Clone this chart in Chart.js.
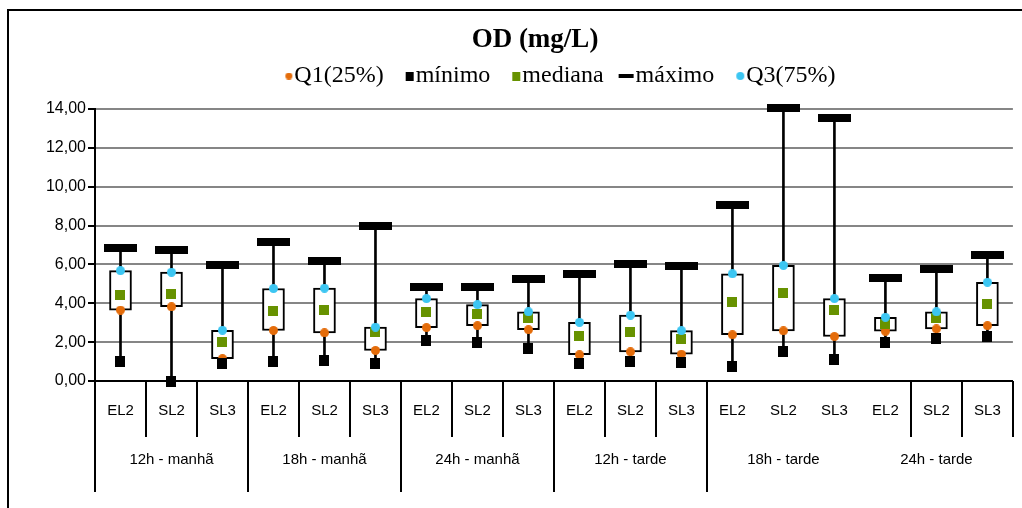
<!DOCTYPE html>
<html>
<head>
<meta charset="utf-8">
<script src="https://cdn.jsdelivr.net/npm/chart.js@4.4.1/dist/chart.umd.min.js"></script>
<style>
  html, body { margin: 0; padding: 0; background: #fff; }
  #wrap { position: relative; width: 1022px; height: 508px; overflow: hidden; }
  #wrap canvas { position: absolute; left: 0; top: 0; }
  #frame { position: absolute; left: 7px; top: 9px; width: 1030px; height: 520px;
           border-left: 2px solid #000; border-top: 2px solid #000; pointer-events: none; }
</style>
</head>
<body>
<div id="wrap">
  <canvas id="chart" width="1022" height="508"></canvas>
  <div id="frame"></div>
</div>
<script>
// Dissolved oxygen (OD, mg/L) summary per site and sampling time
const groups = ['12h - manhã', '18h - manhã', '24h - manhã', '12h - tarde', '18h - tarde', '24h - tarde'];
const sites = ['EL2', 'SL2', 'SL3'];
const categories = groups.flatMap(() => sites);

const minimo  = [1.00, 0.00, 0.88,  1.02, 1.04, 0.92,  2.07, 2.00, 1.69,  0.91, 0.98, 0.96,  0.77, 1.52, 1.11,  2.00, 2.21, 2.29];
const q1      = [3.65, 3.82, 1.15,  2.60, 2.48, 1.57,  2.75, 2.85, 2.64,  1.35, 1.50, 1.38,  2.38, 2.58, 2.29,  2.56, 2.68, 2.85];
const mediana = [4.45, 4.49, 2.00,  3.60, 3.66, 2.51,  3.54, 3.47, 3.22,  2.30, 2.50, 2.18,  4.05, 4.51, 3.66,  2.92, 3.23, 3.97];
const q3      = [5.68, 5.60, 2.61,  4.76, 4.78, 2.77,  4.24, 3.93, 3.56,  3.02, 3.39, 2.59,  5.52, 5.95, 4.24,  3.28, 3.56, 5.08];
const maximo  = [6.82, 6.74, 5.95,  7.18, 6.19, 7.97,  4.86, 4.86, 5.25,  5.53, 6.00, 5.92,  9.06, 14.05, 13.56, 5.28, 5.74, 6.51];

const yTickValues = [0, 2, 4, 6, 8, 10, 12, 14];

// category boundaries left open in the label table
const openBoundaries = [13, 14, 15];

const ORANGE = '#E46C0A';
const GREEN = '#679200';
const BLUE = '#3CC6F2';
const GRID = '#868686';

const LEGEND_BOX = 10;

// small bitmap markers used as point styles
function marker(w, h, color, round, canvasW) {
  const cw = canvasW || w;
  const c = document.createElement('canvas');
  c.width = cw; c.height = h;
  const g = c.getContext('2d');
  g.fillStyle = color;
  const x0 = cw - w - (canvasW ? 1 : 0);
  if (round) {
    g.beginPath();
    g.arc(x0 + w / 2, h / 2, w / 2, 0, Math.PI * 2);
    g.fill();
  } else {
    g.fillRect(x0, 0, w, h);
  }
  return c;
}

const chartMarks = [
  marker(9, 9, ORANGE, true),
  marker(10, 11, '#000', false),
  marker(10, 10, GREEN, false),
  marker(33, 8, '#000', false),
  marker(9, 9, BLUE, true)
];
const LW = LEGEND_BOX + 22;
const legendMarks = [
  marker(7, 7, ORANGE, true, LW),
  marker(8, 9, '#000', false, LW),
  marker(8, 9, GREEN, false, LW),
  marker(15, 4, '#000', false, LW),
  marker(8, 8, BLUE, true, LW)
];

function markerSet(label, values, idx, order) {
  return {
    type: 'line', label, data: values, showLine: false,
    pointStyle: chartMarks[idx], pointRadius: 5, pointHoverRadius: 5,
    borderColor: '#000', backgroundColor: '#000', order, clip: false
  };
}

// divider lines of the two-row category table under the plot
const labelTable = {
  id: 'labelTable',
  afterDraw(chart) {
    const x = chart.scales.x, x2 = chart.scales.x2, ctx = chart.ctx;
    const n = categories.length;
    const edge = i => i === 0 ? x.left : i === n ? x.right
      : (x.getPixelForValue(i - 1) + x.getPixelForValue(i)) / 2;
    ctx.save();
    ctx.strokeStyle = '#000';
    ctx.lineWidth = 2;
    for (let i = 0; i <= n; i++) {
      if (openBoundaries.includes(i)) continue;
      const px = Math.round(edge(i));
      const bottom = (i % sites.length === 0 && i < n) ? x2.bottom : x.bottom;
      ctx.beginPath();
      ctx.moveTo(px, x.top);
      ctx.lineTo(px, bottom);
      ctx.stroke();
    }
    ctx.restore();
  }
};

// extra space between the legend and the plot, and title centring
const headerLayout = {
  id: 'headerLayout',
  beforeInit(chart) {
    Chart.layouts.addBox(chart, {
      position: 'top', weight: 1, fullSize: false, options: {},
      left: 0, top: 0, right: 0, bottom: 0, width: 0, height: 0,
      update(maxWidth) { this.width = maxWidth; this.height = 11; },
      isHorizontal() { return true; },
      draw() {}
    });
  },
  afterLayout(chart) {
    if (chart.titleBlock) chart.titleBlock.left = 52;
  }
};

new Chart(document.getElementById('chart'), {
  type: 'bar',
  data: {
    labels: categories,
    datasets: [
      markerSet('Q1(25%)', q1, 0, 5),
      markerSet('mínimo', minimo, 1, 4),
      markerSet('mediana', mediana, 2, 3),
      markerSet('máximo', maximo, 3, 2),
      markerSet('Q3(75%)', q3, 4, 1),
      {
        type: 'bar', label: 'caixa', data: q1.map((v, i) => [v, q3[i]]),
        backgroundColor: '#fff', borderColor: '#000', borderWidth: 2, borderSkipped: false,
        barThickness: 22, grouped: false, order: 6
      },
      {
        type: 'bar', label: 'amplitude', data: minimo.map((v, i) => [v, maximo[i]]),
        backgroundColor: '#000', borderWidth: 0, barThickness: 2, grouped: false, order: 7, clip: false
      }
    ]
  },
  options: {
    responsive: false,
    devicePixelRatio: 1,
    animation: false,
    events: [],
    layout: { padding: { left: 10, right: 4, top: 10, bottom: 16 } },
    plugins: {
      tooltip: { enabled: false },
      title: {
        display: true, text: 'OD (mg/L)', color: '#000',
        font: { family: 'Liberation Serif', size: 27, weight: 'bold', lineHeight: 1 },
        padding: { top: 17, bottom: 0 }
      },
      legend: {
        display: true, position: 'top', fullSize: false,
        labels: {
          usePointStyle: true, pointStyleWidth: LEGEND_BOX, padding: 10, color: '#000',
          font: { family: 'Liberation Serif', size: 24 },
          generateLabels(chart) {
            return Chart.defaults.plugins.legend.labels.generateLabels(chart)
              .filter(it => it.datasetIndex < legendMarks.length)
              .sort((a, b) => a.datasetIndex - b.datasetIndex)
              .map(it => Object.assign(it, { pointStyle: legendMarks[it.datasetIndex], fontColor: '#000' }));
          }
        }
      }
    },
    scales: {
      y: {
        min: 0, max: 14,
        afterFit(s) { s.width = 85; },
        afterBuildTicks(s) { s.ticks = yTickValues.map(v => ({ value: v })); },
        grid: {
          color: c => c.tick && c.tick.value === 0 ? 'rgba(0,0,0,0)' : GRID,
          lineWidth: 2, tickColor: '#000', tickWidth: 2, tickLength: 7
        },
        border: { display: true, color: '#000', width: 2 },
        ticks: {
          color: '#000', padding: 2,
          font: { family: 'Liberation Sans', size: 16 },
          callback: v => v.toFixed(2).replace('.', ',')
        }
      },
      x: {
        type: 'category', position: 'bottom',
        afterFit(s) { s.height = 56; },
        grid: { display: false, drawTicks: false, tickLength: 0 },
        border: { display: true, color: '#000', width: 2 },
        ticks: {
          color: '#000', padding: 21, autoSkip: false, maxRotation: 0,
          font: { family: 'Liberation Sans', size: 15 }
        }
      },
      x2: {
        type: 'category', position: 'bottom', labels: groups, offset: true,
        afterFit(s) { s.height = 55; },
        grid: { display: false, drawTicks: false, tickLength: 0 },
        border: { display: false },
        ticks: {
          color: '#000', padding: 14, autoSkip: false, maxRotation: 0,
          font: { family: 'Liberation Sans', size: 15 }
        }
      }
    }
  },
  plugins: [headerLayout, labelTable]
});
</script>
</body>
</html>
